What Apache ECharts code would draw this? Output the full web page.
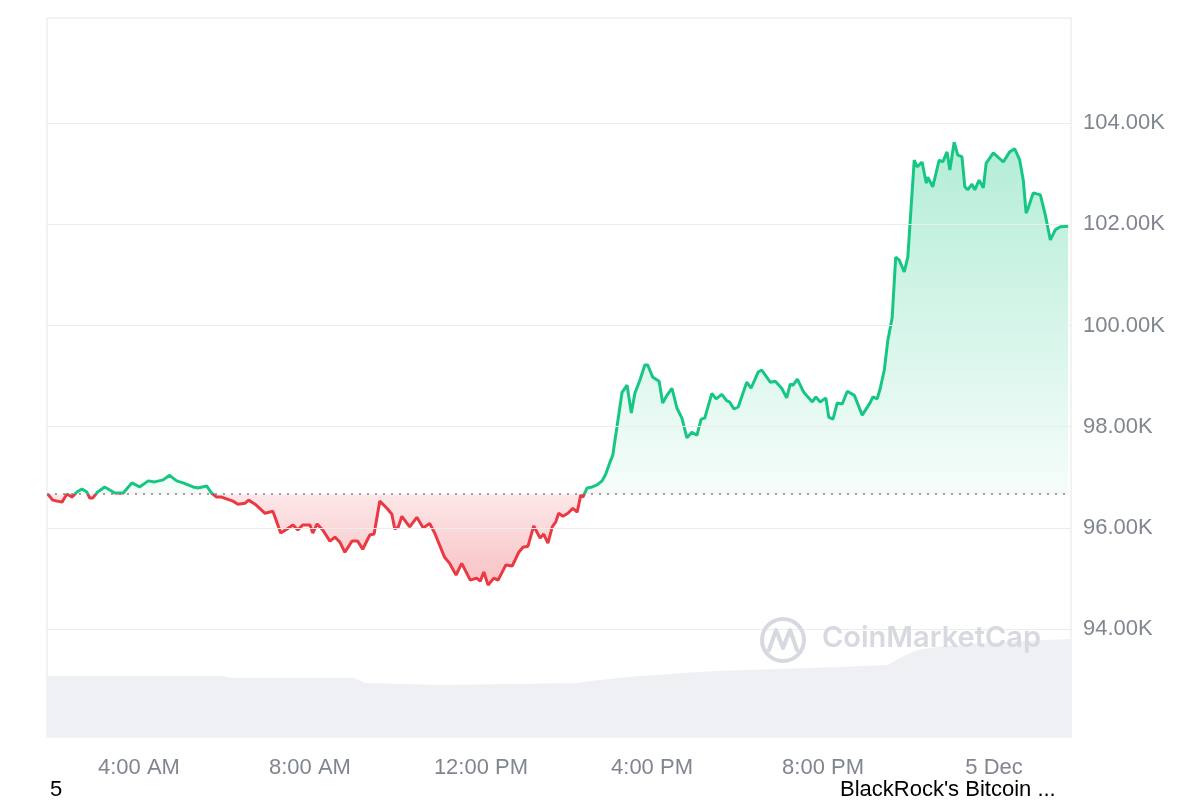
<!DOCTYPE html>
<html><head><meta charset="utf-8">
<script src="https://cdn.jsdelivr.net/npm/echarts@6/dist/echarts.min.js"></script>
<style>html,body{margin:0;padding:0;background:#fff}#c{width:1200px;height:800px}</style>
</head><body><div id="c"></div>
<script>
// Opening price of the window (dotted reference line)
const openPrice = 96670;

// Price samples: minutes since 00:00 on 4 Dec, and BTC price in USD
const priceTimes = [
  112,119,132,139,146,153,160,167,171,175,
  182,192,199,206,218,230,241,253,262,274,
  283,293,302,316,323,335,342,349,356,364,
  372,379,389,394,403,417,428,439,448,456,
  463,470,480,484,490,498,508,515,522,529,
  539,547,554,564,570,578,588,595,599,604,
  609,620,630,639,648,655,669,676,685,693,
  705,714,719,724,730,738,744,755,764,773,
  779,786,794,803,808,814,820,825,829,835,
  842,849,855,860,863,869,876,883,890,895,
  901,905,918,925,931,936,943,950,954,961,
  970,975,981,988,995,1002,1009,1016,1023,1029,
  1034,1044,1050,1058,1065,1069,1075,1081,1093,1099,
  1109,1114,1126,1133,1142,1149,1154,1158,1164,1173,
  1185,1190,1196,1204,1208,1214,1220,1227,1234,1244,
  1255,1266,1270,1276,1280,1286,1291,1297,1302,1307,
  1314,1319,1328,1332,1339,1345,1347,1354,1363,1368,
  1374,1378,1384,1389,1395,1399,1403,1409,1413,1419,
  1425,1429,1439,1453,1462,1469,1476,1481,1485,1488,
  1495,1505,1512,1519,1526,1533,1544
];
const prices = [
  96670,96550,96510,96670,96610,96710,96770,96710,96590,96590,
  96710,96810,96750,96690,96690,96890,96810,96930,96910,96950,
  97040,96930,96890,96810,96790,96830,96690,96610,96610,96570,
  96530,96470,96490,96550,96470,96290,96330,95900,95980,96060,
  95960,96060,96060,95900,96080,95960,95740,95820,95720,95520,
  95740,95740,95580,95860,95880,96530,96390,96270,95980,96020,
  96230,96020,96210,96000,96090,95900,95420,95300,95070,95300,
  94970,95010,94950,95130,94870,95010,94970,95270,95250,95520,
  95620,95640,96040,95800,95880,95700,96020,96120,96290,96230,
  96290,96390,96310,96650,96610,96790,96810,96850,96930,97060,
  97300,97440,98680,98820,98270,98660,98920,99220,99220,98980,
  98900,98470,98620,98760,98370,98170,97780,97890,97830,98150,
  98170,98660,98550,98640,98510,98490,98350,98390,98880,98760,
  99080,99120,98880,98900,98760,98570,98840,98820,98940,98680,
  98490,98590,98490,98570,98190,98150,98470,98450,98700,98620,
  98230,98470,98590,98550,98740,99120,99710,100150,101350,101290,
  101060,101350,103270,103130,103230,102810,102930,102740,103270,103230,
  103430,103070,103620,103370,103330,102740,102680,102790,102680,102870,
  102720,103210,103410,103230,103430,103490,103270,102870,102220,102320,
  102620,102580,102180,101690,101890,101950,101960
];

// Volume profile (minutes since 00:00 on 4 Dec, USD billions)
const volumeTimes = [111,255,355,372,543,557,667,855,873,942,1048,1183,1290,1316,1333,1370,1425,1478,1548];
const volumes     = [84.8,84.8,84.8,82.1,82.1,75.1,72.3,75.1,77.9,84.8,91.8,96.0,100.1,114.0,121.0,126.6,130.7,133.5,136.3];

// Axis ticks
const xTickValues = [240,480,720,960,1200,1440];
const xTickLabels = ['4:00 AM','8:00 AM','12:00 PM','4:00 PM','8:00 PM','5 Dec'];
const yTickValues = [94000,96000,98000,100000,102000,104000];
const yTickLabels = ['94.00K','96.00K','98.00K','100.00K','102.00K','104.00K'];

const GREEN = '#16c784', RED = '#ea3943';
const yMin = 91870, yMax = 106075;
const xMin = 111, xMax = 1548;

const priceData = priceTimes.map((t, i) => [t, prices[i]]);
const volumeData = volumeTimes.map((t, i) => [t, volumes[i]]);

// fill colours by value: faint near the open price, stronger further away
const fillColors = [];
const N = 141;
for (let i = 0; i < N; i++) {
  const v = yMin + (yMax - yMin) * i / (N - 1);
  if (v < openPrice) {
    const k = Math.min(1.3, (openPrice - v) / 1870);
    fillColors.push('rgba(234,57,67,' + (0.12 + 0.2 * k).toFixed(3) + ')');
  } else {
    const k = Math.min(1.3, (v - openPrice) / 7330);
    fillColors.push('rgba(22,199,132,' + (0.04 + 0.3 * k).toFixed(3) + ')');
  }
}

const labelFont = '"Liberation Sans", Arial, sans-serif';
const chart = echarts.init(document.getElementById('c'));
chart.setOption({
  backgroundColor: '#ffffff',
  animation: false,
  grid: { left: 47, right: 129, top: 18, bottom: 63, show: true, borderColor: '#e6e6e6', borderWidth: 1 },
  xAxis: {
    type: 'value', min: xMin, max: xMax,
    axisLine: { show: false }, axisTick: { show: false }, splitLine: { show: false },
    axisLabel: {
      customValues: xTickValues,
      formatter: v => { const i = xTickValues.indexOf(v); return i >= 0 ? xTickLabels[i] : ''; },
      color: '#80868f', fontSize: 22, fontFamily: labelFont, margin: 20
    }
  },
  yAxis: [{
    type: 'value', position: 'right', min: yMin, max: yMax, splitNumber: 7,
    axisLine: { show: false }, axisTick: { show: false },
    splitLine: { show: false },
    axisLabel: {
      formatter: v => { const i = yTickValues.indexOf(v); return i >= 0 ? yTickLabels[i] : ''; },
      color: '#80868f', fontSize: 22, fontFamily: labelFont, margin: 12
    }
  }, {
    type: 'value', min: 0, max: 1000, show: false
  }],
  visualMap: [{
    type: 'continuous', show: false, seriesIndex: 0, dimension: 1,
    min: yMin, max: yMax, inRange: { color: fillColors }
  }, {
    type: 'piecewise', show: false, seriesIndex: 1, dimension: 1,
    pieces: [
      { gte: 80000, lte: openPrice, color: RED },
      { gt: openPrice, lte: 120000, color: GREEN }
    ]
  }],
  series: [{
    name: 'fill', type: 'line', data: priceData, symbol: 'none', silent: true,
    lineStyle: { width: 0 }, areaStyle: { origin: openPrice, opacity: 1 }, z: 2,
    markLine: {
      silent: true, symbol: ['none', 'none'], label: { show: false },
      lineStyle: { type: 'solid', color: '#ececec', width: 1 },
      data: yTickValues.map(v => ({ yAxis: v }))
    }
  }, {
    name: 'Price', type: 'line', data: priceData, symbol: 'none',
    lineStyle: { width: 3 }, z: 4,
    markLine: {
      silent: true, symbol: ['none', 'none'], label: { show: false },
      lineStyle: { type: [2, 6], color: '#7d828a', width: 1.6 },
      data: [{ yAxis: openPrice }]
    }
  }, {
    name: 'Volume', type: 'line', yAxisIndex: 1, data: volumeData, symbol: 'none', silent: true,
    itemStyle: { color: '#eef0f3' }, lineStyle: { width: 0 },
    areaStyle: { color: '#eef0f3', opacity: 1 }, z: 1
  }],
  graphic: [
    { type: 'circle', shape: { cx: 783, cy: 640, r: 21 }, style: { fill: 'none', stroke: '#d6d9df', lineWidth: 4 }, z: 10 },
    { type: 'polyline', shape: { points: [[769, 650], [776, 630], [783, 648], [790, 630], [797, 650]] }, style: { fill: 'none', stroke: '#d6d9df', lineWidth: 4, lineJoin: 'round', lineCap: 'round' }, z: 10 },
    { type: 'text', left: 822, top: 624, style: { text: 'CoinMarketCap', fill: '#d6d9df', font: '600 29px Inter, "Noto Sans", sans-serif' }, z: 10 },
    { type: 'text', left: 50, top: 779, style: { text: '5', fill: '#000', font: '22px "Liberation Sans", Arial, sans-serif' } },
    { type: 'text', left: 840, top: 779, style: { text: "BlackRock's Bitcoin ...", fill: '#000', font: '22px "Liberation Sans", Arial, sans-serif' } }
  ]
});
</script>
</body></html>
